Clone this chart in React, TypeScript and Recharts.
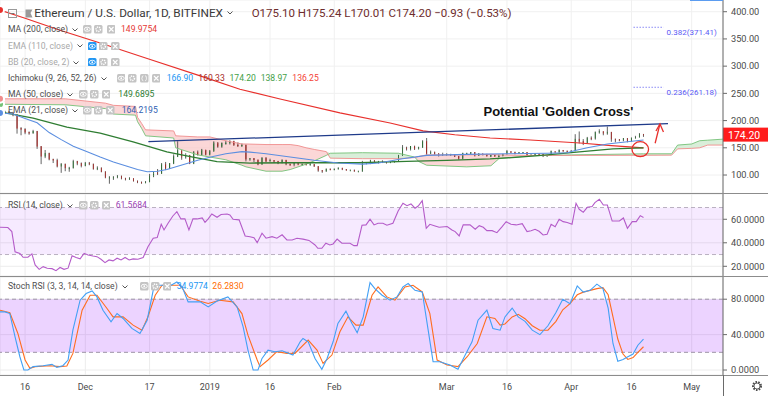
import React from 'react';
import {
  ComposedChart, Bar, Line, Area, XAxis, YAxis, CartesianGrid,
  ReferenceLine, ReferenceArea, ReferenceDot,
} from 'recharts';

// day 0 = 16 Nov 2018; first candle = day -6 (10 Nov 2018)
const FIRST_DAY = -6;
const FIRST_OPEN = 213;
const closes = [
  216, 216, 214, 210, 185, 184, 178, 177, 180, 152,
  134, 140, 129, 127, 116, 120, 113, 113, 125, 121,
  117, 122, 120, 111, 113, 106, 95, 95, 96, 98,
  94, 92, 94, 89, 87, 86, 87, 98, 104, 103,
  120, 112, 121, 134, 145, 133, 136, 121, 142, 137,
  146, 138, 144, 159, 152, 158, 159, 162, 155, 154,
  155, 129, 130, 128, 119, 131, 125, 127, 125, 122,
  127, 120, 119, 121, 119, 120, 119, 119, 116, 108,
  107, 111, 110, 111, 113, 110, 109, 109, 107, 107,
  122, 122, 127, 123, 125, 124, 123, 124, 125, 136,
  150, 148, 152, 148, 151, 162, 139, 142, 139, 138,
  138, 138, 138, 134, 130, 140, 140, 141, 136, 139,
  138, 135, 136, 135, 135, 138, 143, 141, 139, 141,
  141, 137, 137, 139, 138, 135, 136, 143, 142, 145,
  144, 143, 144, 166, 162, 159, 168, 167, 178, 180,
  176, 179, 166, 165, 164, 167, 162, 168, 169, 175.1,
  174.2,
];
const highs = [
  218, 218, 218, 216, 212, 188, 186, 180, 183, 181,
  153, 146, 141, 130, 130, 122, 121, 115, 128, 126,
  123, 124, 124, 121, 116, 114, 107, 98, 98, 100,
  99, 95, 96, 94, 90, 88, 89, 102, 106, 111,
  122, 124, 122, 138, 162, 145, 140, 137, 144, 145,
  148, 146, 146, 162, 160, 160, 163, 164, 163, 160,
  158, 156, 131, 131, 128, 133, 133, 130, 127, 126,
  129, 128, 121, 122, 122, 121, 121, 123, 120, 116,
  109, 112, 112, 112, 114, 113, 111, 110, 110, 108,
  126, 123, 128, 127, 126, 127, 125, 125, 126, 137,
  155, 152, 153, 154, 152, 164, 168, 145, 143, 140,
  141, 140, 139, 138, 135, 141, 141, 142, 142, 140,
  139, 139, 137, 137, 138, 139, 146, 143, 143, 142,
  142, 142, 138, 140, 139, 139, 137, 145, 143, 147,
  146, 145, 146, 175, 180, 166, 170, 171, 180, 184,
  180, 189, 179, 167, 166, 168, 168, 169, 172, 177,
  175.24,
];
const lows = [
  212, 212, 212, 208, 176, 173, 175, 174, 176, 148,
  120, 131, 127, 122, 114, 104, 107, 106, 112, 118,
  114, 116, 118, 110, 109, 105, 94, 84, 91, 94,
  92, 90, 91, 88, 85, 84, 85, 87, 96, 100,
  102, 109, 111, 120, 133, 128, 130, 120, 120, 136,
  136, 136, 136, 143, 150, 150, 156, 156, 154, 152,
  152, 125, 126, 124, 118, 119, 124, 125, 122, 120,
  122, 118, 117, 116, 118, 118, 118, 118, 115, 106,
  104, 106, 109, 109, 110, 109, 108, 108, 106, 106,
  106, 120, 120, 122, 121, 122, 121, 122, 123, 124,
  135, 145, 145, 146, 147, 150, 137, 139, 137, 134,
  136, 137, 136, 133, 128, 129, 137, 138, 134, 135,
  136, 134, 133, 134, 133, 135, 138, 140, 138, 139,
  139, 135, 136, 137, 137, 133, 134, 136, 141, 141,
  143, 142, 142, 144, 158, 155, 158, 164, 165, 176,
  173, 174, 161, 160, 162, 162, 160, 161, 167, 169,
  170.01,
];

const ma200: [number, number][] = [
  [-6.25, 403], [0, 388], [8.7, 366], [18.7, 342.5], [30.4, 314], [43.6, 282],
  [53.5, 257.5], [63.5, 239.6], [78.4, 214], [90.9, 195.6], [99.1, 181],
  [107, 174], [115.8, 168], [125.8, 164.3], [138.2, 158.8], [146, 154], [154, 149.98],
];
const ma50: [number, number][] = [
  [-6.25, 216], [2, 204.7], [10.4, 188], [18.7, 177], [26.9, 160.7], [35.3, 142.3],
  [41.8, 133], [47.8, 124.5], [56, 122], [66, 122.5], [76, 122.5], [83, 122.5],
  [95, 125], [105, 127], [115.8, 129.5], [123, 133], [130, 137], [138, 142.4],
  [146.4, 148], [154, 149.69],
];
const ema21: [number, number][] = [
  [-6.25, 214], [-3, 212], [0, 204], [3, 196], [6, 178], [9, 165], [12, 153],
  [15, 144], [18.7, 133], [22, 124], [25, 117], [28, 110], [30.4, 106], [33, 107],
  [35.3, 110], [38, 116], [40.3, 121], [43, 127], [46.8, 134], [50, 139], [54, 143],
  [56, 142], [60, 139], [66, 133], [72, 127], [78, 122], [84, 120], [88, 122],
  [94, 130], [100, 136], [110, 138], [120, 139], [130, 140], [135, 141], [137, 145],
  [140, 150], [145, 157], [150, 161], [154, 164.22],
];
const cloudDays = [
  -6.25, 10, 20, 22, 27.5, 28, 29, 30, 37, 37.5, 43, 46, 50, 54, 55, 60, 64, 66, 68, 70,
  72, 75, 76, 84, 93, 97, 98, 100, 110, 116, 118, 125, 136, 154, 161, 162.5, 166, 168, 170, 174,
];
const spanA = [
  230, 229, 222, 212, 210, 198, 186, 172, 168, 150, 137, 133, 128, 118, 115, 107, 107, 110, 115, 120,
  126, 136, 140, 141, 140, 133, 125, 118, 115, 117, 130, 135, 137, 138.97, 139, 155, 157, 163, 164, 166,
];
const spanB = [
  240, 240, 232, 228, 226, 206, 195, 183, 181, 172, 170, 170, 163, 157, 157, 156, 156, 156, 154, 150,
  147, 143, 131, 130, 130, 132, 134, 137, 137, 138, 137, 136, 136, 136.25, 136.5, 148, 149, 150, 155, 155,
];
const rsi: [number, number][] = [
  [-6.25, 53.2], [-4.3, 53], [-3.3, 49.5], [-2.5, 32.4], [-1.3, 31], [-0.5, 27.7], [0.7, 27.7], [1.7, 30.5],
  [2.5, 21.1], [3.5, 17.4], [4.5, 19.7], [5.5, 18.3], [6.7, 18], [7.7, 16.3], [8.7, 19], [9.7, 17.4],
  [10.7, 18.4], [11.7, 29], [12.7, 27.4], [13.7, 26.3], [14.7, 31], [15.7, 29.6], [16.9, 28.7], [17.9, 28.2],
  [18.9, 26], [19.9, 23.1], [20.9, 25.4], [21.9, 24.6], [22.9, 26.9], [23.9, 25.4], [24.9, 27.5], [25.9, 25.4],
  [26.9, 26.3], [28.1, 26], [29.4, 27.5], [30.6, 36.7], [31.9, 43.8], [32.9, 44.4], [33.9, 55.7], [34.6, 50.9],
  [35.6, 56.6], [36.8, 62.8], [37.8, 66.5], [38.8, 60.3], [39.8, 60.3], [40.8, 50.9], [41.8, 60.3], [42.8, 60.3],
  [44.1, 61.1], [44.8, 57.4], [45.6, 60.3], [46.5, 64.5], [47.8, 61.7], [48.8, 64], [50.3, 64.5], [51, 63.7],
  [51.8, 60], [53.3, 59.5], [54.8, 45.8], [56, 45.2], [57, 44.4], [57.8, 40.1], [59, 48.1], [60, 43.9],
  [61.5, 45.2], [62.7, 43.9], [64, 46.8], [65.2, 42.4], [66.5, 42.4], [67.7, 43.9], [69.2, 43.1], [70.7, 42],
  [72.2, 38.1], [72.9, 35.3], [73.9, 35.3], [74.9, 39.6], [75.9, 38.1], [76.7, 39], [77.7, 43.1], [78.9, 39.6],
  [80.9, 39.6], [81.9, 37.6], [82.7, 37.6], [83.9, 54.9], [84.9, 55.2], [85.9, 60], [86.9, 55.2], [87.9, 56.6],
  [89.1, 56.6], [90.1, 54.9], [91.6, 56.6], [92.9, 67.1], [94.1, 73.6], [95.1, 71.6], [96.1, 73], [97.1, 69.4],
  [97.9, 71.3], [98.9, 75.8], [99.9, 52.3], [100.8, 55.7], [102.1, 54.3], [103.1, 53.2], [105.1, 53.8], [106.3, 50.9],
  [107.1, 49.5], [108.1, 45.8], [109.1, 55.2], [110.8, 55.2], [112.1, 51.5], [113.1, 54.6], [114.1, 53.2], [115, 50.3],
  [116.3, 50.3], [117.5, 48.6], [118.8, 53.7], [119.8, 58], [121, 55.7], [122.3, 55.2], [123.8, 56.3], [125, 49.5],
  [126, 50.3], [127, 51.5], [128, 49.8], [129, 46.6], [130, 47.2], [131, 55.7], [132, 53.7], [133, 60],
  [134, 58], [135, 57.2], [136.2, 55.7], [137.2, 73.6], [138, 68.5], [139, 65.9], [140, 70.2], [141.2, 70.8],
  [141.9, 74.2], [143, 77], [144, 72.1], [145, 72.1], [146.2, 58.5], [148, 58.5], [149, 61.1], [150, 52.3],
  [151.2, 58], [152.2, 58], [153.2, 63.1], [154, 61.57],
];
const stochK: [number, number][] = [
  [-6.25, 65.7], [-5, 65.7], [-3.8, 63.8], [-2.5, 37.5], [-1.3, 15], [-0.3, 0], [0.7, 0], [2, 3.8],
  [4.5, 4.9], [6.7, 6.4], [7.9, 3], [9.4, 4.9], [10.7, 11.3], [11.9, 45], [13.7, 78.9], [15.2, 86.4],
  [16.7, 89.4], [17.9, 82.6], [19.4, 67.6], [21.4, 54.4], [22.9, 63.8], [24.4, 58.2], [26.6, 47], [28.6, 41.3],
  [30.4, 56.3], [31.9, 90.1], [33.1, 95.8], [34.3, 95.8], [35.6, 93.9], [37.8, 99.5], [39.1, 93.9], [40.6, 77],
  [43.6, 77], [45.6, 71.3], [47.8, 78], [50.5, 82.6], [52.8, 71.3], [54.3, 48.8], [55.5, 22.5], [56.8, 0],
  [58, 0], [59, 13.1], [60.5, 22.5], [62.2, 20.7], [64, 21.8], [66.7, 16.9], [68.5, 31.9], [69.2, 35.7],
  [70.5, 31.9], [72.2, 13.1], [73.9, 0.8], [75.2, 13.1], [76.7, 31.9], [77.9, 52.6], [79.9, 66.5], [81.4, 52.6],
  [82.7, 42.1], [84.2, 60.1], [85.9, 98.8], [87.1, 92], [88.9, 84.5], [90.9, 78.9], [92.6, 82.6], [94.1, 93.9],
  [95.4, 97.7], [97.1, 90.1], [98.9, 88.2], [101.6, 9.4], [103.3, 9.4], [105.8, 5.6], [107.8, 0.8], [109.6, 16.9],
  [111.3, 31.9], [112.8, 56.3], [115, 67.6], [116.5, 47], [118.3, 45], [119.5, 60], [121.3, 70], [122.8, 60],
  [124.5, 55], [126.3, 45], [128.2, 40], [130.2, 50], [132.2, 65], [133.9, 80], [135.7, 75], [137.5, 95],
  [139, 88], [140.7, 90], [142.4, 97], [143.9, 92], [145.2, 70], [146.4, 30], [147.6, 10], [148.9, 12],
  [150.1, 15], [151.4, 18], [152.6, 28], [154, 34.98],
];
const stochD: [number, number][] = [
  [-6.25, 67.6], [-3.8, 64.7], [-1.8, 41.3], [0, 11.3], [1.2, 1.9], [2.5, 3.8], [6.2, 4.9], [8.7, 3.8],
  [10.4, 4.5], [11.9, 18.8], [14.2, 67.6], [16.2, 84.5], [17.9, 84.5], [20.4, 69.5], [21.9, 60.1], [24.4, 60.1],
  [26.9, 50.7], [29.1, 45], [30.6, 60.1], [32.4, 84.5], [34.1, 95.8], [36.1, 95.8], [38.6, 95.8], [40.6, 82.6],
  [43.6, 77.7], [45.6, 75.1], [48.5, 78.9], [51.8, 77], [54, 63.8], [55.5, 39.4], [57.8, 11.3], [58.5, 3.8],
  [60.5, 11.3], [62.7, 20.7], [65.2, 18.8], [67.2, 18.8], [70.5, 33.8], [72.7, 22.5], [74.2, 7.5], [76.4, 16.9],
  [78.4, 43.2], [80.4, 60.1], [82.4, 50.7], [84.2, 50.7], [86.4, 84.5], [87.9, 93.9], [90.1, 82.6], [92.1, 78.9],
  [94.6, 93.9], [96.6, 95.8], [98.9, 88.2], [100.8, 63.8], [102.6, 11.3], [105.1, 5.6], [107.8, 3.8], [110.1, 15],
  [112.6, 30], [115, 60.1], [117, 58.2], [118.3, 50.7], [119.5, 52], [121.3, 60], [122.8, 63], [124.5, 58],
  [126.3, 50], [128.2, 45], [130.2, 45], [132.2, 55], [133.9, 68], [135.7, 75], [137.5, 85], [139, 88],
  [140.7, 90], [142.4, 92], [143.9, 93], [145.2, 85], [146.4, 60], [147.6, 35], [148.9, 18], [150.1, 12],
  [151.4, 14], [152.6, 20], [154, 26.28],
];

const tickDays = [0, 15, 31, 46, 61, 77, 105, 120, 136, 151, 166];
const tickLabels = ['16', 'Dec', '17', '2019', '16', 'Feb', 'Mar', '16', 'Apr', '16', 'May'];
const priceTicks = [100, 150, 200, 250, 300, 350, 400];
const rsiTicks = [20, 40, 60];
const stochTicks = [0, 40, 80];

const fibLevels = [
  { ratio: '0.382', price: 371.41 },
  { ratio: '0.236', price: 261.18 },
];
const fibSpan = [151.5, 159];
const trendline = [{ x: 30.7, y: 161.2 }, { x: 160.1, y: 194.3 }];
const crossMark = { x: 153.2, y: 147.4 };
const arrowLine = [{ x: 156.9, y: 158.3 }, { x: 158.1, y: 193.7 }];

const ohlcText = 'O175.10 H175.24 L170.01 C174.20 \u22120.93 (\u22120.53%)';
const lastMA200 = '149.9754';
const lastMA50 = '149.6895';
const lastEMA21 = '164.2195';
const ichimokuVals = ['166.90', '160.33', '174.20', '138.97', '136.25'];
const lastRSI = '61.5684';
const lastStoch = ['34.9774', '26.2830'];

// ---------- derived tables ----------
const candleRows = closes.map((c, i) => ({
  d: FIRST_DAY + i,
  o: i === 0 ? FIRST_OPEN : closes[i - 1],
  h: highs[i],
  l: lows[i],
  c,
  range: [lows[i], highs[i]],
}));
const pairRows = (arr: [number, number][]) => arr.map(([d, v]) => ({ d, v }));
const ma200Rows = pairRows(ma200);
const ma50Rows = pairRows(ma50);
const ema21Rows = pairRows(ema21);
const rsiRows = pairRows(rsi);
const kRows = pairRows(stochK);
const dRows = pairRows(stochD);
const cloudRows = cloudDays.map((d, i) => {
  const a = spanA[i];
  const b = spanB[i];
  const top = Math.max(a, b);
  return { d, a, b, bear: [a, top], bull: [b, top] };
});
const lastClose = closes[closes.length - 1];

const X_DOMAIN: [number, number] = [-6.25, 173.8];
const FONT = 'Roboto, "Noto Sans", sans-serif';
const AXIS_TICK = { fontSize: 9.2, fill: '#4a4a4a', fontFamily: FONT };

const Candle = (props: any) => {
  const { x, y, width, height, payload } = props;
  if (!payload || x == null) return null;
  const { o, h, l, c } = payload;
  const top = Math.min(y, y + height);
  const hh = Math.abs(height);
  const k = hh / (h - l);
  const up = c >= o;
  const bodyTop = top + (h - Math.max(o, c)) * k;
  const bodyH = Math.max(1, Math.abs(o - c) * k);
  const cx = x + width / 2;
  return (
    <g>
      <line x1={cx} x2={cx} y1={top} y2={top + hh} stroke="#3c3c3c" strokeWidth={0.8} />
      <rect x={x} y={bodyTop} width={width} height={bodyH}
        fill={up ? '#3f9d45' : '#ec2f2b'} stroke={up ? '#22662a' : '#9a1c18'} strokeWidth={0.5} />
    </g>
  );
};

const PriceTag = (props: any) => {
  const vb = props.viewBox || {};
  const x = (vb.x || 0) + (vb.width || 0);
  const y = vb.y || 0;
  return (
    <g>
      <rect x={x} y={y - 7} width={45} height={14} fill="#ff1c1c" />
      <text x={x + 5} y={y + 0.5} dominantBaseline="central" fill="#fff" fontSize={10.5} fontFamily={FONT}>
        {lastClose.toFixed(2)}
      </text>
    </g>
  );
};

const makeFibLabel = (text: string) => (props: any) => {
  const vb = props.viewBox || {};
  return (
    <text x={(vb.x || 0) + (vb.width || 0) + 3} y={(vb.y || 0) + 5} dominantBaseline="central"
      fill="#5a5af5" fontSize={8} fontFamily={FONT}>{text}</text>
  );
};

const Ellipse = (props: any) => (
  <ellipse cx={props.cx} cy={props.cy} rx={8.3} ry={7.5} fill="none" stroke="#e8302c" strokeWidth={1.3} />
);
const ArrowHead = (props: any) => (
  <path d={`M ${props.cx - 4} ${props.cy + 7} L ${props.cx} ${props.cy} L ${props.cx + 3.5} ${props.cy + 8}`}
    fill="none" stroke="#e8302c" strokeWidth={1.3} />
);

// ---------- overlay helpers ----------
const ChevronSvg = () => (
  <svg width={6} height={4} style={{ display: 'inline-block', marginLeft: 4, verticalAlign: 'middle' }}>
    <path d="M0.5 0.5 L3 3 L5.5 0.5" fill="none" stroke="#555" strokeWidth={1} />
  </svg>
);
const Txt = ({ x, c, size, color, children, weight, family, chevron }: any) => (
  <div style={{
    position: 'absolute', left: x, top: c - size * 0.49, fontSize: size, lineHeight: 1,
    color, whiteSpace: 'nowrap', fontWeight: weight || 400, fontFamily: family || FONT,
  }}>{children}{chevron ? <ChevronSvg /> : null}</div>
);
const Icon = ({ x, c, kind, blue }: any) => {
  const s = 8.5;
  let glyph: any = null;
  if (kind === 'eye') glyph = <g><ellipse cx={4.25} cy={4.25} rx={3} ry={2} fill="none" stroke="#fff" strokeWidth={0.9} /><circle cx={4.25} cy={4.25} r={0.9} fill="#fff" /></g>;
  if (kind === 'gear') glyph = <circle cx={4.25} cy={4.25} r={2.2} fill="none" stroke="#fff" strokeWidth={1.5} strokeDasharray="1.2 0.8" />;
  if (kind === 'x') glyph = <path d="M2 2 L6.5 6.5 M6.5 2 L2 6.5" stroke="#fff" strokeWidth={1.1} />;
  if (kind === 'br') glyph = <path d="M3.3 1.8 Q2.2 1.8 2.2 3 L2.2 3.8 L1.6 4.25 L2.2 4.7 L2.2 5.5 Q2.2 6.7 3.3 6.7 M5.2 1.8 Q6.3 1.8 6.3 3 L6.3 3.8 L6.9 4.25 L6.3 4.7 L6.3 5.5 Q6.3 6.7 5.2 6.7" fill="none" stroke="#fff" strokeWidth={0.8} />;
  return (
    <svg style={{ position: 'absolute', left: x, top: c - s / 2 }} width={s} height={s}>
      <rect x={0} y={0} width={s} height={s} rx={1.5} fill={blue ? '#2196f3' : '#c4c4c4'} />
      {glyph}
    </svg>
  );
};
const Icons = ({ xs, c, kinds, firstBlue }: any) => (
  <>{xs.map((x: number, i: number) => <Icon key={i} x={x} c={c} kind={kinds[i]} blue={firstBlue && i === 0} />)}</>
);

const LSIZE = 8.6;
const DARK = '#4e4e4e';
const FADED = '#a8a8a8';

export default function App() {
  return (
    <div style={{ position: 'absolute', left: 0, top: 0, width: 768, height: 396, background: '#fff', overflow: 'hidden', fontFamily: FONT }}>
      {/* price pane */}
      <div style={{ position: 'absolute', left: 0, top: 0 }}>
        <ComposedChart width={768} height={193} data={candleRows} margin={{ top: 0, right: 0, bottom: 0, left: 0 }}>
          <CartesianGrid stroke="#f0f0f0" />
          <XAxis type="number" dataKey="d" domain={X_DOMAIN} ticks={tickDays} allowDataOverflow hide />
          <YAxis orientation="right" width={45} type="number" domain={[66.97, 421.5]} allowDataOverflow
            ticks={priceTicks} interval={0} tickFormatter={(v: number) => v.toFixed(2)} tick={AXIS_TICK}
            tickSize={4} tickMargin={4} axisLine={{ stroke: '#6a6a6a' }} tickLine={{ stroke: '#6a6a6a' }} />
          <Area data={cloudRows} dataKey="bear" type="linear" stroke="none" fill="#f9caca" fillOpacity={0.75} isAnimationActive={false} />
          <Area data={cloudRows} dataKey="bull" type="linear" stroke="none" fill="#cfead0" fillOpacity={0.8} isAnimationActive={false} />
          <Line data={cloudRows} dataKey="a" type="linear" stroke="#74c176" strokeWidth={0.9} dot={false} isAnimationActive={false} />
          <Line data={cloudRows} dataKey="b" type="linear" stroke="#ef8c8c" strokeWidth={0.9} dot={false} isAnimationActive={false} />
          <Line data={ma200Rows} dataKey="v" stroke="#e8302c" strokeWidth={1.2} dot={false} isAnimationActive={false} />
          <Line data={ma50Rows} dataKey="v" stroke="#2f7d32" strokeWidth={1.3} dot={false} isAnimationActive={false} />
          <Line data={ema21Rows} dataKey="v" stroke="#5b8ee0" strokeWidth={1.1} dot={false} isAnimationActive={false} />
          <Bar dataKey="range" barSize={3} shape={<Candle />} isAnimationActive={false} />
          <ReferenceLine segment={trendline} stroke="#1f3b8a" strokeWidth={1.3} />
          {fibLevels.map((f) => (
            <ReferenceLine key={f.ratio} segment={[{ x: fibSpan[0], y: f.price }, { x: fibSpan[1], y: f.price }]}
              stroke="#8a8af5" strokeDasharray="1.5 1.5" strokeWidth={1}
              label={makeFibLabel(`${f.ratio}(${f.price.toFixed(2)})`)} />
          ))}
          <ReferenceDot x={crossMark.x} y={crossMark.y} r={8} shape={<Ellipse />} />
          <ReferenceLine segment={arrowLine} stroke="#e8302c" strokeWidth={1.3} />
          <ReferenceDot x={arrowLine[1].x} y={arrowLine[1].y} r={4} shape={<ArrowHead />} />
          <ReferenceLine y={lastClose} stroke="none" label={<PriceTag />} />
        </ComposedChart>
      </div>

      {/* RSI pane */}
      <div style={{ position: 'absolute', left: 0, top: 194 }}>
        <ComposedChart width={768} height={82} data={rsiRows} margin={{ top: 0, right: 0, bottom: 0, left: 0 }}>
          <CartesianGrid stroke="#ececec" />
          <XAxis type="number" dataKey="d" domain={X_DOMAIN} ticks={tickDays} allowDataOverflow hide />
          <YAxis orientation="right" width={45} type="number" domain={[11.74, 81.5]} allowDataOverflow
            ticks={rsiTicks} interval={0} tickFormatter={(v: number) => v.toFixed(4)} tick={AXIS_TICK}
            tickSize={4} tickMargin={4} axisLine={{ stroke: '#6a6a6a' }} tickLine={{ stroke: '#6a6a6a' }} />
          <ReferenceArea y1={30} y2={70} fill="#9915ff" fillOpacity={0.09} stroke="none" />
          <ReferenceLine y={70} stroke="#b9b0c0" strokeDasharray="4 3" />
          <ReferenceLine y={30} stroke="#b9b0c0" strokeDasharray="4 3" />
          <Line dataKey="v" stroke="#b45bc9" strokeWidth={1.1} dot={false} isAnimationActive={false} />
        </ComposedChart>
      </div>

      {/* Stoch RSI pane */}
      <div style={{ position: 'absolute', left: 0, top: 277 }}>
        <ComposedChart width={768} height={119} margin={{ top: 0, right: 0, bottom: 0, left: 0 }}>
          <CartesianGrid stroke="#ececec" />
          <XAxis type="number" dataKey="d" domain={X_DOMAIN} ticks={tickDays} interval={0} allowDataOverflow
            height={21} axisLine={false} tickLine={false} tickSize={6} tickMargin={3}
            tickFormatter={(v: number) => tickLabels[tickDays.indexOf(v)]} tick={{ fontSize: 9, fill: '#4a4a4a', fontFamily: FONT }} />
          <YAxis orientation="right" width={45} type="number" domain={[-5.63, 105.1]} allowDataOverflow
            ticks={stochTicks} interval={0} tickFormatter={(v: number) => v.toFixed(4)} tick={AXIS_TICK}
            tickSize={4} tickMargin={4} axisLine={{ stroke: '#6a6a6a' }} tickLine={{ stroke: '#6a6a6a' }} />
          <ReferenceArea y1={20} y2={80} fill="#9915ff" fillOpacity={0.19} stroke="none" />
          <ReferenceLine y={80} stroke="#9e94a6" strokeDasharray="4 3" />
          <ReferenceLine y={20} stroke="#9e94a6" strokeDasharray="4 3" />
          <Line data={dRows} dataKey="v" stroke="#ff6d1f" strokeWidth={1.1} dot={false} isAnimationActive={false} />
          <Line data={kRows} dataKey="v" stroke="#42a0f5" strokeWidth={1.1} dot={false} isAnimationActive={false} />
        </ComposedChart>
      </div>

      {/* frame lines */}
      <div style={{ position: 'absolute', left: 0, top: 193, width: 768, height: 1, background: '#8c8c8c' }} />
      <div style={{ position: 'absolute', left: 0, top: 276, width: 768, height: 1, background: '#8c8c8c' }} />
      <div style={{ position: 'absolute', left: 0, top: 375, width: 768, height: 1, background: '#8c8c8c' }} />
      <div style={{ position: 'absolute', left: 723, top: 375, width: 1, height: 21, background: '#6a6a6a' }} />
      <div style={{ position: 'absolute', left: 690, top: 0, width: 33, height: 1, background: '#5b9cf0' }} />
      <svg style={{ position: 'absolute', left: 751, top: 380 }} width={12} height={12}>
        <circle cx={6} cy={6} r={4} fill="none" stroke="#4a4a4a" strokeWidth={2} strokeDasharray="1.6 1.2" />
        <circle cx={6} cy={6} r={3} fill="none" stroke="#4a4a4a" strokeWidth={0.8} />
      </svg>

      {/* title row */}
      <svg style={{ position: 'absolute', left: 8, top: 9 }} width={9} height={9}>
        <rect x={0.5} y={0.5} width={8} height={8} fill="none" stroke="#9a9a9a" />
        <path d="M2.5 4.5 L6.5 4.5" stroke="#7a7a7a" />
      </svg>
      <svg style={{ position: 'absolute', left: 25, top: 9 }} width={8} height={9}>
        <path d="M0.5 0.5 L7.5 0.5 L5.5 4 L7.5 8.5 L0.5 8.5 Z" fill="#9a9a9a" />
      </svg>
      <Txt x={34.3} c={13.3} size={11.8} color="#3a3a3a" chevron>Ethereum / U.S. Dollar, 1D, BITFINEX</Txt>
      <Txt x={251.7} c={13.3} size={11.5} color="#6e2c2c">{ohlcText}</Txt>

      {/* indicator legends */}
      <Txt x={8} c={29.5} size={LSIZE} color={DARK} chevron>MA (200, close)</Txt>
      <Icons xs={[83.3, 94.3, 106.7]} c={29.5} kinds={['eye', 'gear', 'x']} />
      <Txt x={121} c={29.5} size={LSIZE} color="#e53935">{lastMA200}</Txt>

      <Txt x={8} c={45.8} size={LSIZE} color={FADED} chevron>EMA (110, close)</Txt>
      <Icons xs={[88.3, 99.3, 111]} c={45.8} kinds={['eye', 'gear', 'x']} firstBlue />

      <Txt x={8} c={62} size={LSIZE} color={FADED} chevron>BB (20, close, 2)</Txt>
      <Icons xs={[88.3, 99.3, 111]} c={62} kinds={['eye', 'gear', 'x']} firstBlue />

      <Txt x={8} c={78.3} size={LSIZE} color={DARK} chevron>Ichimoku (9, 26, 52, 26)</Txt>
      <Icons xs={[116.7, 128.3, 140, 151.7]} c={78.3} kinds={['eye', 'gear', 'br', 'x']} />
      <Txt x={166.7} c={78.3} size={LSIZE} color="#2196f3">{ichimokuVals[0]}</Txt>
      <Txt x={198.3} c={78.3} size={LSIZE} color="#a52a1e">{ichimokuVals[1]}</Txt>
      <Txt x={229.5} c={78.3} size={LSIZE} color="#43a047">{ichimokuVals[2]}</Txt>
      <Txt x={260.7} c={78.3} size={LSIZE} color="#43a047">{ichimokuVals[3]}</Txt>
      <Txt x={292.3} c={78.3} size={LSIZE} color="#f44336">{ichimokuVals[4]}</Txt>

      <Txt x={8} c={94.4} size={LSIZE} color={DARK} chevron>MA (50, close)</Txt>
      <Icons xs={[79.3, 90, 101.7]} c={94.4} kinds={['eye', 'gear', 'x']} />
      <Txt x={118.3} c={94.4} size={LSIZE} color="#2e7d32">{lastMA50}</Txt>

      <Txt x={8} c={110.6} size={LSIZE} color={DARK} chevron>EMA (21, close)</Txt>
      <Icons xs={[83.3, 94.3, 106]} c={110.6} kinds={['eye', 'gear', 'x']} />
      <Txt x={121.7} c={110.6} size={LSIZE} color="#2f5fb3">{lastEMA21}</Txt>

      <Txt x={8} c={205.7} size={LSIZE} color={DARK} chevron>RSI (14, close)</Txt>
      <Icons xs={[79.3, 90, 101.7]} c={205.7} kinds={['eye', 'gear', 'x']} />
      <Txt x={115.7} c={205.7} size={LSIZE} color="#9c3fb5">{lastRSI}</Txt>

      <Txt x={8} c={286.3} size={LSIZE} color={DARK} chevron>Stoch RSI (3, 3, 14, 14, close)</Txt>
      <Icons xs={[140, 151, 162.7]} c={286.3} kinds={['eye', 'gear', 'x']} />
      <Txt x={176.7} c={286.3} size={LSIZE} color="#2196f3">{lastStoch[0]}</Txt>
      <Txt x={212.3} c={286.3} size={LSIZE} color="#ff6d00">{lastStoch[1]}</Txt>

      {/* annotation text */}
      <Txt x={483.5} c={111.5} size={13} color="#111" weight={700} family='"Liberation Sans", Arial, sans-serif'>Potential 'Golden Cross'</Txt>
    </div>
  );
}
